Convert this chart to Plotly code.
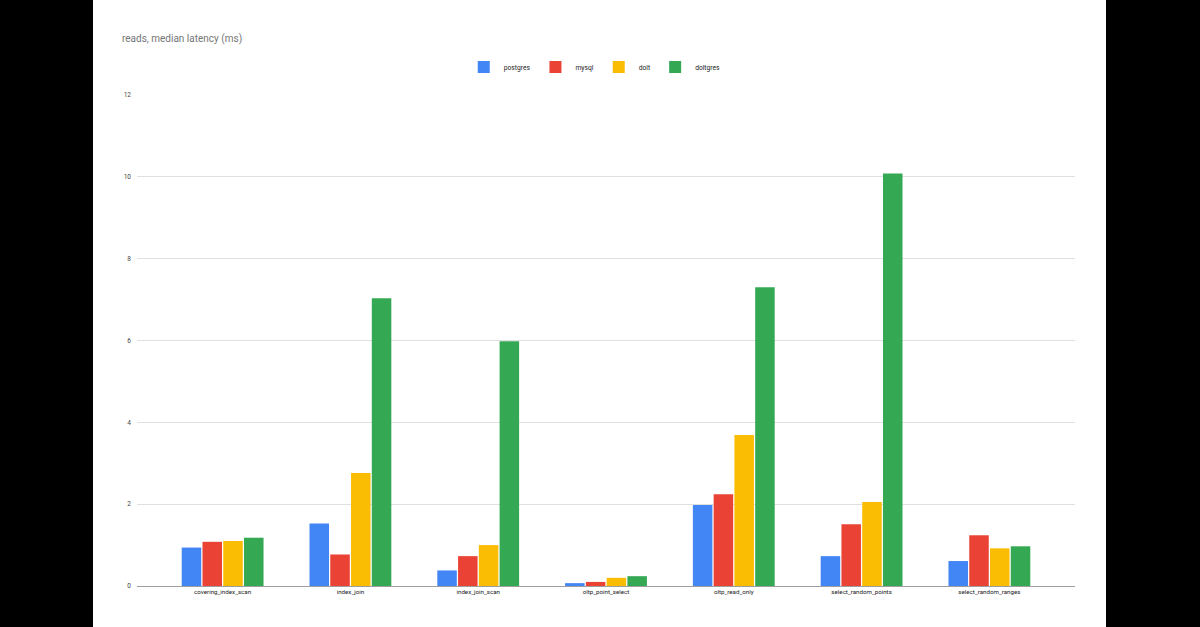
import plotly.graph_objects as go

categories = ['covering_index_scan', 'index_join', 'index_join_scan', 'oltp_point_select',
              'oltp_read_only', 'select_random_points', 'select_random_ranges']
postgres = [0.94, 1.53, 0.38, 0.07, 1.98, 0.73, 0.61]
mysql = [1.08, 0.77, 0.73, 0.10, 2.24, 1.51, 1.24]
dolt = [1.10, 2.76, 1.00, 0.20, 3.69, 2.05, 0.92]
doltgres = [1.18, 7.03, 5.98, 0.24, 7.30, 10.08, 0.97]

series = [('postgres', postgres, '#4285F4'),
          ('mysql', mysql, '#EA4335'),
          ('dolt', dolt, '#FBBC04'),
          ('doltgres', doltgres, '#34A853')]

fig = go.Figure()
for name, vals, col in series:
    fig.add_trace(go.Bar(x=categories, y=vals, name=name,
                         marker=dict(color=col, line=dict(width=0))))

# black side bands framing the white chart card
W, L, R = 1200, 137, 125
pw = W - L - R
for x0, x1 in [(0, 93), (1106, 1200)]:
    fig.add_shape(type='rect', xref='paper', yref='paper',
                  x0=(x0 - L) / pw, x1=(x1 - L) / pw, y0=-0.2, y1=1.3,
                  fillcolor='black', line=dict(width=0), layer='above')

fig.update_layout(
    width=W, height=627,
    paper_bgcolor='white', plot_bgcolor='white',
    font=dict(family='Roboto, Arial, sans-serif', size=8, color='#222222'),
    title=dict(text='reads, median latency (ms)', x=122 / W, xanchor='left', y=1 - 38 / 627,
               yanchor='middle', font=dict(size=10, color='#757575')),
    legend=dict(orientation='h', x=0.488, xanchor='center', y=1.057, yanchor='middle',
                font=dict(size=6.7, color='#222222'), itemwidth=30, traceorder='normal'),
    margin=dict(l=L, r=R, t=95, b=41),
    barmode='group', bargap=0.35, bargroupgap=0.06,
    xaxis=dict(range=[-0.67, 6.67], showgrid=False, showline=True, linecolor='#9e9e9e',
               linewidth=1, ticks='', tickfont=dict(size=6.2, color='#222222')),
    yaxis=dict(range=[0, 12], dtick=2, showgrid=True, gridcolor='#e0e0e0', gridwidth=1,
               zeroline=False, ticks='', tickfont=dict(size=6.5, color='#444444'),
               ticklabelstandoff=5),
)

fig.write_html('out.html', config={'displayModeBar': False},
               post_script="document.body.style.margin='0';")
